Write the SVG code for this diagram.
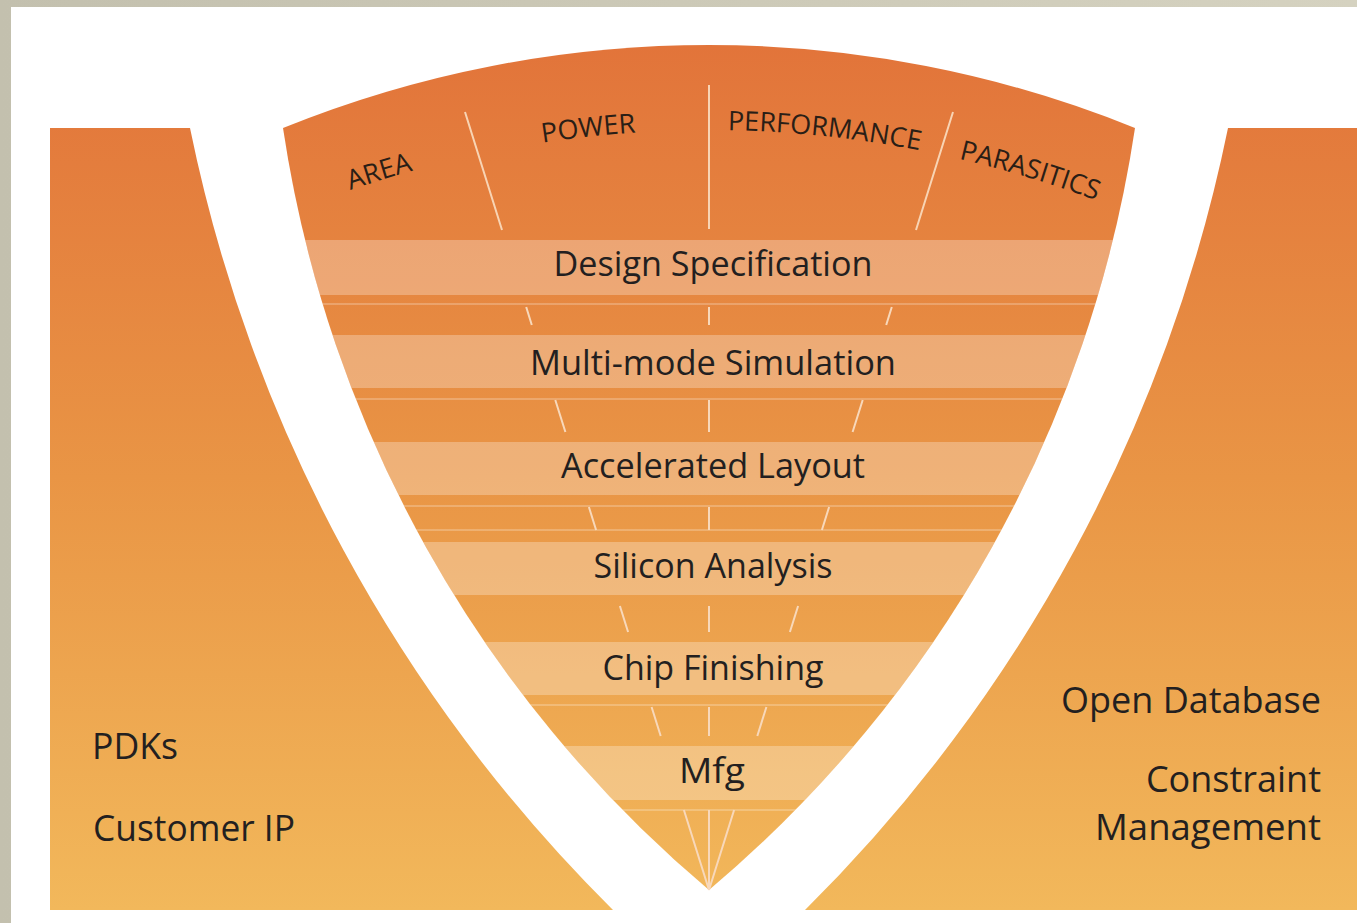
<svg xmlns="http://www.w3.org/2000/svg" xmlns:xlink="http://www.w3.org/1999/xlink" width="1357" height="923" viewBox="0 0 1357 923">
  <defs>
    <linearGradient id="frame" x1="0" y1="0" x2="1" y2="0">
      <stop offset="0" stop-color="#c3c0ae"/>
      <stop offset="1" stop-color="#d5d2c0"/>
    </linearGradient>
    <linearGradient id="orange" gradientUnits="userSpaceOnUse" x1="0" y1="45" x2="0" y2="910">
      <stop offset="0" stop-color="#e2743a"/>
      <stop offset="0.5" stop-color="#e99545"/>
      <stop offset="1" stop-color="#f2b85b"/>
    </linearGradient>
    <clipPath id="funnelClip">
      <path id="funnelShape" d="M283,128 A1135,1135 0 0 1 1135,128 A1234.9,1234.9 0 0 1 709,890 A1234.9,1234.9 0 0 1 283,128 Z"/>
    </clipPath>
    <path id="labelArc" d="M159,277.4 A1100,1100 0 0 1 1259,277.4"/>
    <style>
      .band { fill: #ffffff; fill-opacity: 0.28; }
      .hline { stroke: #ffffff; stroke-opacity: 0.3; stroke-width: 1.5; fill: none; }
      .div { stroke: #f8d4b4; stroke-width: 2; fill: none; stroke-linecap: butt; }
      .tick { stroke: #f8d8ba; stroke-width: 2; fill: none; }
      .label { font-family: "Open Sans", "Noto Sans", "Liberation Sans", sans-serif; font-size: 34px; fill: #231f20; text-anchor: middle; }
      .top { font-family: "Open Sans", "Noto Sans", "Liberation Sans", sans-serif; font-size: 27px; fill: #2a1e16; text-anchor: middle; }
      .side { font-family: "Open Sans", "Noto Sans", "Liberation Sans", sans-serif; font-size: 36px; fill: #231f20; }
    </style>
  </defs>

  <g id="background">
    <rect x="0" y="0" width="1357" height="923" fill="url(#frame)"/>
    <rect x="11" y="7" width="1346" height="916" fill="#ffffff"/>
  </g>

  <g id="left-panel">
    <path d="M50,128 L190,128 A1532.3,1532.3 0 0 0 613,910 L50,910 Z" fill="url(#orange)"/>
    <text class="side" x="92" y="759" textLength="86" lengthAdjust="spacingAndGlyphs">PDKs</text>
    <text class="side" x="93" y="841" textLength="202" lengthAdjust="spacingAndGlyphs">Customer IP</text>
  </g>

  <g id="right-panel">
    <path d="M1357,128 L1228,128 A1532.3,1532.3 0 0 1 805,910 L1357,910 Z" fill="url(#orange)"/>
    <text class="side" x="1321" y="713" text-anchor="end">Open Database</text>
    <text class="side" x="1321" y="792" text-anchor="end">Constraint</text>
    <text class="side" x="1321" y="840" text-anchor="end" textLength="226" lengthAdjust="spacingAndGlyphs">Management</text>
  </g>

  <g id="funnel">
    <use xlink:href="#funnelShape" fill="url(#orange)"/>
    <g clip-path="url(#funnelClip)">
      <rect class="band" x="250" y="240" width="920" height="55"/>
      <rect class="band" x="250" y="335" width="920" height="53"/>
      <rect class="band" x="250" y="442" width="920" height="53"/>
      <rect class="band" x="250" y="542" width="920" height="53"/>
      <rect class="band" x="250" y="642" width="920" height="53"/>
      <rect class="band" x="250" y="746" width="920" height="54"/>
      <path class="hline" d="M250,304 H1170 M250,399 H1170 M250,506 H1170 M250,530 H1170 M250,705 H1170 M250,810 H1170"/>
    </g>
  </g>

  <g id="connectors">
    <path class="div" d="M465,112 L502,230 M709,85 L709,229 M953,112 L916,230"/>
    <path class="tick" d="M526.2,307 L531.8,325 M555.3,400 L565.4,432 M588.9,507 L596.1,530 M619.9,606 L628.1,632 M651.6,707 L660.7,736 M683.9,810 L709,890"/>
    <path class="tick" d="M709,307 L709,325 M709,400 L709,432 M709,507 L709,530 M709,606 L709,632 M709,707 L709,736 M709,810 L709,890"/>
    <path class="tick" d="M891.8,307 L886.2,325 M862.7,400 L852.6,432 M829.1,507 L821.9,530 M798.1,606 L789.9,632 M766.4,707 L757.3,736 M734.1,810 L709,890"/>
  </g>

  <g id="criteria">
    <text class="top"><textPath xlink:href="#labelArc" startOffset="243.5">AREA</textPath></text>
    <text class="top"><textPath xlink:href="#labelArc" startOffset="455.8">POWER</textPath></text>
    <text class="top"><textPath xlink:href="#labelArc" startOffset="691.2">PERFORMANCE</textPath></text>
    <text class="top"><textPath xlink:href="#labelArc" startOffset="899.7">PARASITICS</textPath></text>
  </g>

  <g id="node-design-specification"><text class="label" x="713" y="276" textLength="319" lengthAdjust="spacingAndGlyphs">Design Specification</text></g>
  <g id="node-multi-mode-simulation"><text class="label" x="713" y="375" textLength="366" lengthAdjust="spacingAndGlyphs">Multi-mode Simulation</text></g>
  <g id="node-accelerated-layout"><text class="label" x="713" y="478" textLength="304" lengthAdjust="spacingAndGlyphs">Accelerated Layout</text></g>
  <g id="node-silicon-analysis"><text class="label" x="713" y="578" textLength="239" lengthAdjust="spacingAndGlyphs">Silicon Analysis</text></g>
  <g id="node-chip-finishing"><text class="label" x="713" y="680" textLength="221" lengthAdjust="spacingAndGlyphs">Chip Finishing</text></g>
  <g id="node-mfg"><text class="label" x="712" y="783" textLength="66" lengthAdjust="spacingAndGlyphs">Mfg</text></g>
</svg>
